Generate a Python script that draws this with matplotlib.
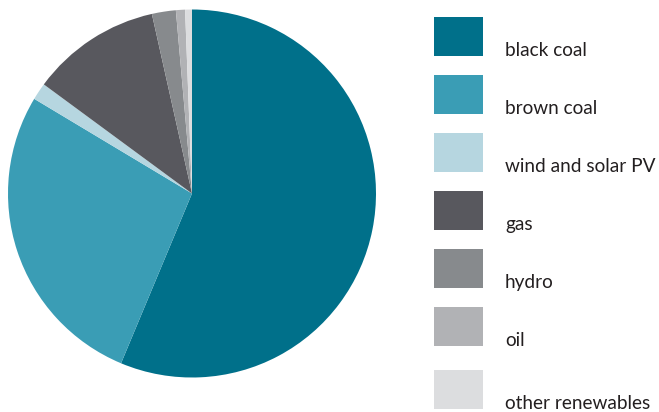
import matplotlib.pyplot as plt
from matplotlib.patches import Rectangle

# Electricity generation by fuel (share, %)
labels = ["black coal", "brown coal", "wind and solar PV", "gas",
          "hydro", "oil", "other renewables"]
shares = [56.3, 27.3, 1.5, 11.4, 2.1, 0.8, 0.6]
colors = ["#00708a", "#3a9db5", "#b6d6e0", "#58585e",
          "#878a8d", "#b1b2b5", "#dcdddf"]


def main():
    W, H = 659, 412
    fig = plt.figure(figsize=(W / 100, H / 100), dpi=100)

    # pie: centre (192, 193) px, radius 184 px
    cx, cy, r = 192, 193.5, 184
    ax = fig.add_axes([(cx - r) / W, (H - cy - r) / H, 2 * r / W, 2 * r / H])
    ax.pie(shares, colors=colors, startangle=90, counterclock=False,
           wedgeprops={"linewidth": 0})
    ax.set_xlim(-1, 1)
    ax.set_ylim(-1, 1)
    ax.set_aspect("equal")
    ax.axis("off")

    # legend drawn in pixel space
    lg = fig.add_axes([0, 0, 1, 1])
    lg.set_xlim(0, W)
    lg.set_ylim(H, 0)
    lg.axis("off")
    tops = [17, 75, 133, 191, 249, 307, 370]
    for top, lab, col in zip(tops, labels, colors):
        lg.add_patch(Rectangle((434, top), 49, 39, facecolor=col,
                               edgecolor="none"))
        lg.text(505, top + 39, lab, fontsize=13.7, family="Lato",
                color="#231f20", va="baseline", ha="left")

    fig.savefig("out.png", dpi=100)


if __name__ == "__main__":
    main()
